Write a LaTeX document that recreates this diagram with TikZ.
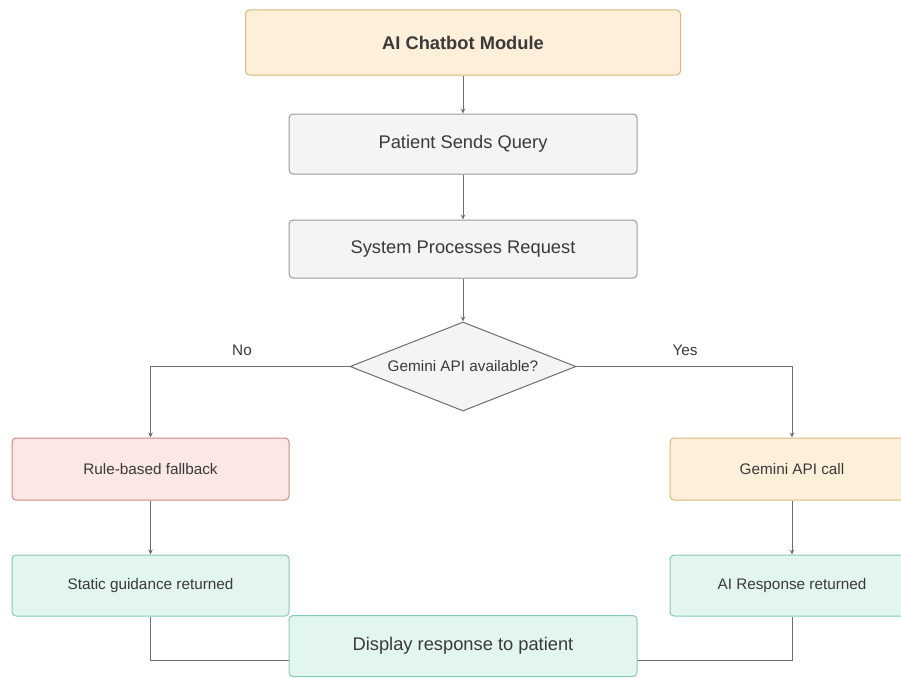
\documentclass[tikz,border=0pt]{standalone}
\usepackage{fontspec}
\setmainfont{Liberation Sans}
\usetikzlibrary{shapes.geometric,arrows.meta}
\definecolor{txt}{HTML}{3A3A3A}
\definecolor{lnc}{HTML}{6E6E6E}
\definecolor{orfill}{HTML}{FDEFD9}
\definecolor{ordraw}{HTML}{D9B77A}
\definecolor{gyfill}{HTML}{F4F4F4}
\definecolor{gydraw}{HTML}{9A9A9A}
\definecolor{rdfill}{HTML}{FBE7E3}
\definecolor{rddraw}{HTML}{CE8A86}
\definecolor{grfill}{HTML}{E2F5EF}
\definecolor{grdraw}{HTML}{86CBB5}
\tikzset{
  box/.style={rectangle, rounded corners=4pt, line width=1pt, inner sep=0pt, text=txt},
  orbox/.style={box, fill=orfill, draw=ordraw},
  gybox/.style={box, fill=gyfill, draw=gydraw},
  rdbox/.style={box, fill=rdfill, draw=rddraw},
  grbox/.style={box, fill=grfill, draw=grdraw},
  big/.style={font=\fontsize{18.3}{20}\selectfont},
  small/.style={font=\fontsize{15.3}{17}\selectfont},
  conn/.style={draw=lnc, line width=1pt},
  arr/.style={conn, -{Stealth[length=5pt,width=4.5pt]}},
}
\begin{document}
\begin{tikzpicture}[x=1pt,y=-1pt]
\useasboundingbox (0,0) rectangle (901,677);
\clip (0,0) rectangle (901,677);
\fill[white] (0,0) rectangle (901,677);
\node[orbox, big, minimum width=435, minimum height=65, font=\fontsize{18.3}{20}\selectfont\bfseries] (chat) at (463,42.5) {AI Chatbot Module};
\node[gybox, big, minimum width=348, minimum height=60] (query) at (463,144) {Patient Sends Query};
\node[gybox, big, minimum width=348, minimum height=58] (proc) at (463,249) {System Processes Request};
\node[diamond, aspect=2.54, draw=lnc, fill=gyfill, line width=1pt, text=txt, small, minimum width=226, minimum height=89, inner sep=0pt] (dec) at (463,366.5) {Gemini API available?};
\node[rdbox, small, minimum width=277, minimum height=62] (rule) at (150.5,469) {Rule-based fallback};
\node[grbox, small, minimum width=277, minimum height=61] (stat) at (150.5,585.5) {Static guidance returned};
\node[orbox, small, minimum width=244, minimum height=62] (gem) at (792,469) {Gemini API call};
\node[grbox, small, minimum width=244, minimum height=61] (airesp) at (792,585.5) {AI Response returned};
\node[text=txt, small] (no) at (242,350) {No};
\node[text=txt, small] (yes) at (685,350) {Yes};
\coordinate (lc) at (150.5,660);
\coordinate (rc) at (792,660);
\draw[arr] (chat) -- (query);
\draw[arr] (query) -- (proc);
\draw[arr] (proc) -- (dec);
\draw[arr] (dec.west) -| (rule.north);
\draw[arr] (dec.east) -| (gem.north);
\draw[arr] (rule) -- (stat);
\draw[arr] (gem) -- (airesp);
\draw[conn] (stat.south) -- (lc) -- (lc -| 300,0);
\draw[conn] (airesp.south) -- (rc) -- (rc -| 630,0);
\node[grbox, big, minimum width=348, minimum height=61] (disp) at (463,646) {Display response to patient};
\end{tikzpicture}
\end{document}
